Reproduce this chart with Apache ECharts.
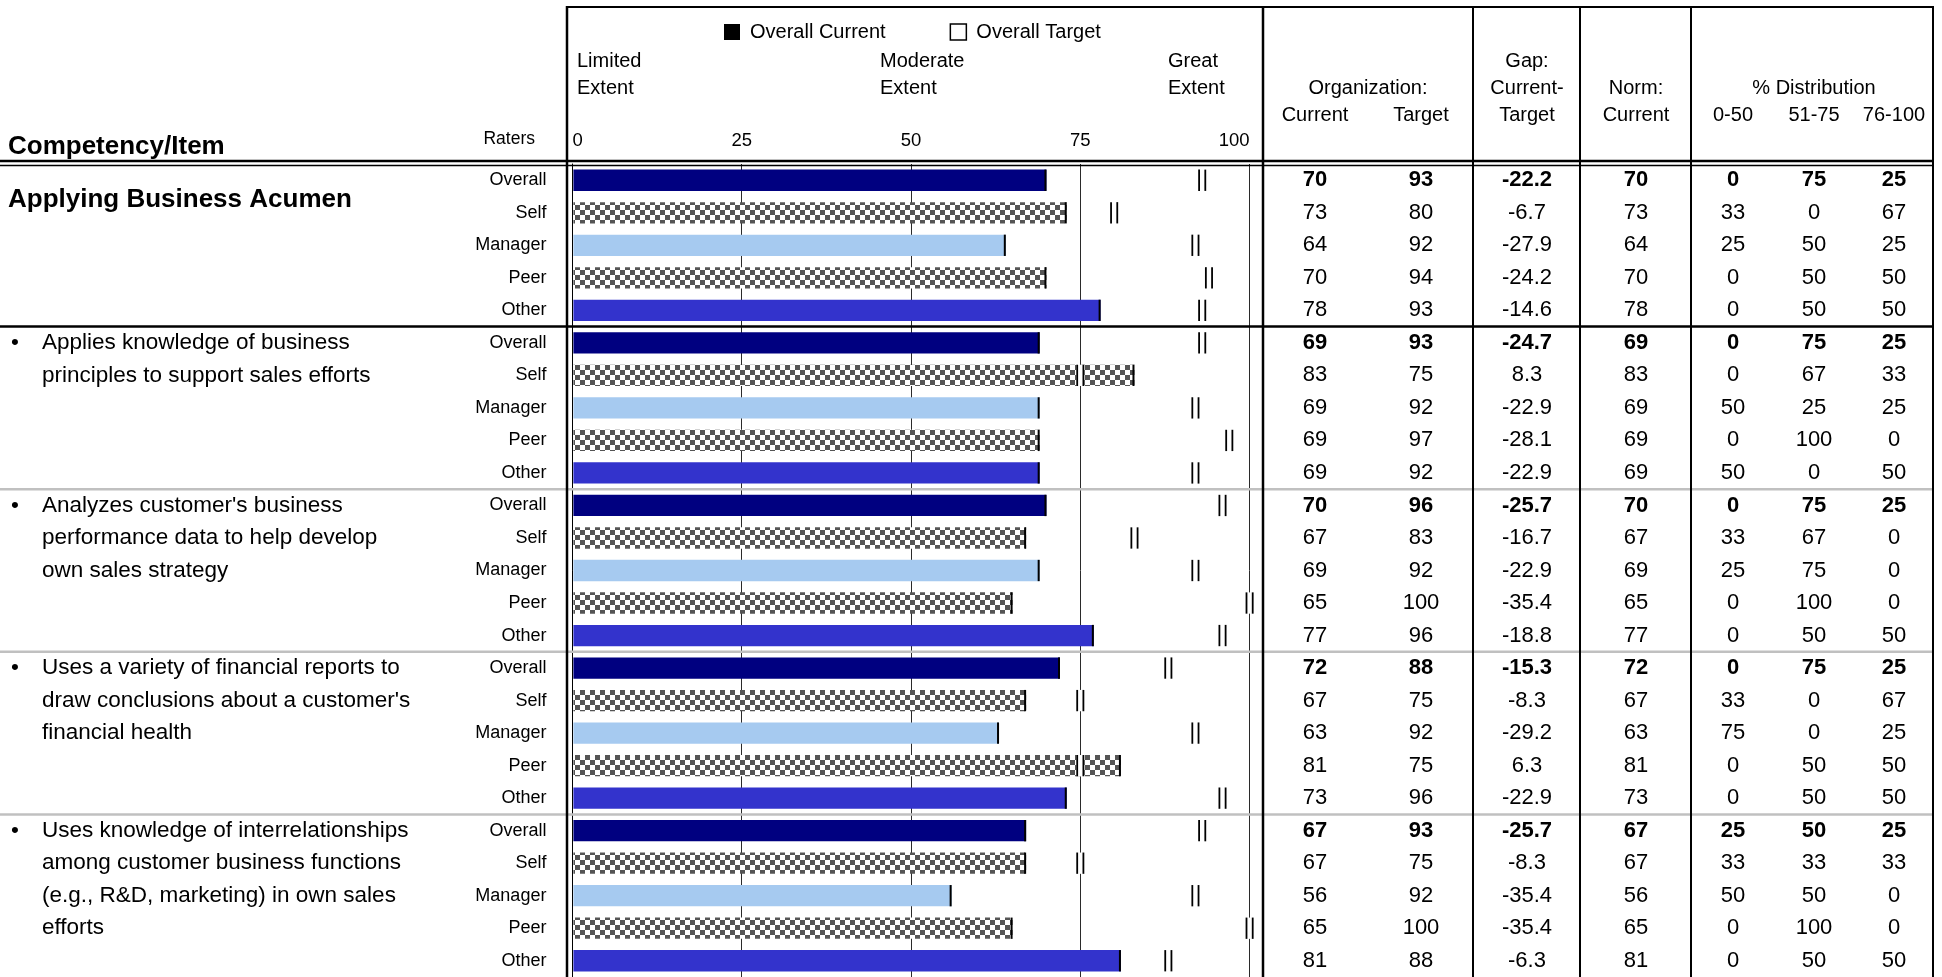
<!DOCTYPE html>
<html><head><meta charset="utf-8">
<script src="https://cdn.jsdelivr.net/npm/echarts@6/dist/echarts.min.js"></script>
<style>html,body{margin:0;padding:0;background:#fff}#c{width:1942px;height:977px}</style>
</head><body><div id="c"></div><script>
const FONT = '"Liberation Sans", Arial, Helvetica, sans-serif';

// ---------- data ----------
const raterNames = ['Overall', 'Self', 'Manager', 'Peer', 'Other'];
const competency = 'Applying Business Acumen';
const itemTexts = [
  ['Applies knowledge of business', 'principles to support sales efforts'],
  ['Analyzes customer\'s business', 'performance data to help develop', 'own sales strategy'],
  ['Uses a variety of financial reports to', 'draw conclusions about a customer\'s', 'financial health'],
  ['Uses knowledge of interrelationships', 'among customer business functions', '(e.g., R&D, marketing) in own sales', 'efforts']
];
const xTicks = ['0', '25', '50', '75', '100'];
const orgCurrent = [70, 73, 64, 70, 78, 69, 83, 69, 69, 69, 70, 67, 69, 65, 77, 72, 67, 63, 81, 73, 67, 67, 56, 65, 81];
const orgTarget  = [93, 80, 92, 94, 93, 93, 75, 92, 97, 92, 96, 83, 92, 100, 96, 88, 75, 92, 75, 96, 93, 75, 92, 100, 88];
const gapValues  = [-22.2, -6.7, -27.9, -24.2, -14.6, -24.7, 8.3, -22.9, -28.1, -22.9, -25.7, -16.7, -22.9, -35.4, -18.8, -15.3, -8.3, -29.2, 6.3, -22.9, -25.7, -8.3, -35.4, -35.4, -6.3];
const normCurrent = [70, 73, 64, 70, 78, 69, 83, 69, 69, 69, 70, 67, 69, 65, 77, 72, 67, 63, 81, 73, 67, 67, 56, 65, 81];
const dist0to50   = [0, 33, 25, 0, 0, 0, 0, 50, 0, 50, 0, 33, 25, 0, 0, 0, 33, 75, 0, 0, 25, 33, 50, 0, 0];
const dist51to75  = [75, 0, 50, 50, 50, 75, 67, 25, 100, 0, 75, 67, 75, 100, 50, 75, 0, 0, 50, 50, 50, 33, 50, 100, 50];
const dist76to100 = [25, 67, 25, 50, 50, 25, 33, 25, 0, 50, 25, 0, 0, 0, 50, 25, 67, 25, 50, 50, 25, 33, 0, 0, 50];

// ---------- styles ----------
const nRows = orgCurrent.length;
const rowLabels = Array.from({length: nRows}, (_, i) => raterNames[i % 5]);

const pat = document.createElement('canvas');
pat.width = 10; pat.height = 10;
(function () {
  const g = pat.getContext('2d');
  g.fillStyle = '#ffffff'; g.fillRect(0, 0, 10, 10);
  g.fillStyle = '#555555'; g.fillRect(0, 0, 5, 5); g.fillRect(5, 5, 5, 5);
})();
const checker = {image: pat, repeat: 'repeat'};
const raterFill = ['#000080', checker, '#A6CAF0', checker, '#3333CC'];

const colX = [1315, 1421, 1527, 1636, 1733, 1814, 1894];
const BAR_FRAC = 0.655;
const HS = 20; // header font size

function txt(text, x, y, size, align, bold) {
  return {type: 'text', x: x, y: y, z: 20, silent: true,
    style: {text: text, fill: '#000', font: (bold ? 'bold ' : '') + size + 'px ' + FONT,
      textAlign: align || 'left', align: align || 'left', textVerticalAlign: 'middle', verticalAlign: 'middle'}};
}
function ln(x1, y1, x2, y2, w, c) {
  return {type: 'line', z: 20, silent: true, shape: {x1, y1, x2, y2}, style: {stroke: c || '#000', lineWidth: w}};
}

// left text lines
const leftLines = [{row: 0, text: competency, bold: true, title: true}];
itemTexts.forEach((lines, g) => lines.forEach((t, j) => leftLines.push({row: (g + 1) * 5 + j, text: t, bullet: j === 0})));

const headerGraphics = [
  txt('Competency/Item', 8, 147, 26, 'left', true),
  txt('Raters', 535, 139, 17.5, 'right'),
  txt('Limited', 577, 61, HS), txt('Extent', 577, 88, HS),
  txt('Moderate', 880, 61, HS), txt('Extent', 880, 88, HS),
  txt('Great', 1168, 61, HS), txt('Extent', 1168, 88, HS),
  txt('Organization:', 1368, 88, HS, 'center'),
  txt('Current', colX[0], 115, HS, 'center'), txt('Target', colX[1], 115, HS, 'center'),
  txt('Gap:', colX[2], 61, HS, 'center'), txt('Current-', colX[2], 88, HS, 'center'), txt('Target', colX[2], 115, HS, 'center'),
  txt('Norm:', colX[3], 88, HS, 'center'), txt('Current', colX[3], 115, HS, 'center'),
  txt('% Distribution', colX[5], 88, HS, 'center'),
  txt('0-50', colX[4], 115, HS, 'center'), txt('51-75', colX[5], 115, HS, 'center'), txt('76-100', colX[6], 115, HS, 'center'),
  ln(566, 7, 1934, 7, 2),
  ln(0, 161, 1934, 161, 2.5),
  ln(0, 165.5, 1934, 165.5, 1.5),
  ln(567, 6, 567, 977, 2.5),
  ln(1263, 6, 1263, 977, 2.5),
  ln(1473, 6, 1473, 977, 2),
  ln(1580, 6, 1580, 977, 2),
  ln(1691, 6, 1691, 977, 2),
  ln(1933, 6, 1933, 977, 2)
];

const chart = echarts.init(document.getElementById('c'), null, {renderer: 'canvas'});
chart.setOption({
  animation: false,
  backgroundColor: '#fff',
  textStyle: {fontFamily: FONT},
  legend: {
    left: 724, top: 22, padding: 0, itemWidth: 16, itemHeight: 16, itemGap: 64, selectedMode: false,
    textStyle: {fontSize: HS, color: '#000', fontFamily: FONT, padding: [0, 0, 0, 5]},
    data: [
      {name: 'Overall Current', icon: 'rect', itemStyle: {color: '#000', borderWidth: 0}},
      {name: 'Overall Target', icon: 'rect', itemStyle: {color: '#fff', borderColor: '#000', borderWidth: 1.5}}
    ]
  },
  grid: {left: 572.4, top: 164, width: 677.2, height: 820, containLabel: false},
  xAxis: {
    type: 'value', position: 'top', min: 0, max: 100, interval: 25,
    axisLine: {show: false}, axisTick: {show: false},
    axisLabel: {
      color: '#000', fontSize: 18.5, fontFamily: FONT, margin: 14,
      alignMinLabel: 'left', alignMaxLabel: 'right',
      formatter: (v) => xTicks[Math.round(v / 25)]
    },
    splitLine: {show: true, lineStyle: {color: '#2a2a2a', width: 1}}
  },
  yAxis: {
    type: 'category', inverse: true, data: rowLabels,
    axisLine: {show: true, lineStyle: {color: '#000', width: 1}},
    axisTick: {show: false},
    axisLabel: {color: '#000', fontSize: 18, fontFamily: FONT, margin: 26, align: 'right'},
    splitLine: {show: false}
  },
  graphic: headerGraphics,
  series: [
    {
      type: 'custom', name: 'Overall Current', silent: true, z: 3,
      data: orgCurrent.map((v, i) => [v, i]),
      encode: {x: 0, y: 1},
      renderItem: function (params, api) {
        const v = api.value(0), row = api.value(1);
        const p0 = api.coord([0, row]), p1 = api.coord([v, row]);
        const h = api.size([0, 1])[1] * BAR_FRAC;
        const top = p0[1] - h / 2;
        return {type: 'group', children: [
          {type: 'rect', shape: {x: p0[0] + 1, y: top, width: p1[0] - p0[0] - 1, height: h}, style: {fill: raterFill[row % 5]}},
          {type: 'rect', shape: {x: p1[0] - 2, y: top, width: 2, height: h}, style: {fill: '#000'}}
        ]};
      }
    },
    {
      type: 'custom', name: 'Overall Target', silent: true, z: 4,
      data: orgTarget.map((v, i) => [v, i]),
      encode: {x: 0, y: 1},
      renderItem: function (params, api) {
        const v = api.value(0), row = api.value(1);
        const p = api.coord([v, row]);
        const h = api.size([0, 1])[1] * BAR_FRAC;
        const top = p[1] - h / 2;
        return {type: 'group', children: [
          {type: 'rect', shape: {x: p[0] - 4, y: top, width: 8, height: h}, style: {fill: '#fff'}},
          {type: 'rect', shape: {x: p[0] - 4, y: top, width: 1.8, height: h}, style: {fill: '#000'}},
          {type: 'rect', shape: {x: p[0] + 2.2, y: top, width: 1.8, height: h}, style: {fill: '#000'}}
        ]};
      }
    },
    {
      type: 'custom', name: 'table', silent: true, z: 5,
      data: orgCurrent.map((v, i) => [0, i]),
      encode: {x: 0, y: 1},
      renderItem: function (params, api) {
        const i = api.value(1);
        const y = api.coord([0, i])[1];
        const pitch = api.size([0, 1])[1];
        const bold = i % 5 === 0;
        const vals = [orgCurrent[i], orgTarget[i], gapValues[i].toFixed(1), normCurrent[i], dist0to50[i], dist51to75[i], dist76to100[i]];
        const children = vals.map((v, k) => ({type: 'text', x: colX[k], y: y,
          style: {text: String(v), fill: '#000', font: (bold ? 'bold ' : '') + '22px ' + FONT,
            textAlign: 'center', align: 'center', textVerticalAlign: 'middle', verticalAlign: 'middle'}}));
        if (i % 5 === 0 && i > 0) {
          const yy = y - pitch / 2;
          children.push({type: 'line', z2: -1, shape: {x1: 0, y1: yy, x2: 1933, y2: yy},
            style: {stroke: i === 5 ? '#000' : '#c0c0c0', lineWidth: 2.5}});
        }
        return {type: 'group', children: children};
      }
    },
    {
      type: 'custom', name: 'items', silent: true, z: 5,
      data: leftLines.map((l) => [0, l.row]),
      encode: {x: 0, y: 1},
      renderItem: function (params, api) {
        const l = leftLines[params.dataIndex];
        let y = api.coord([0, l.row])[1];
        const pitch = api.size([0, 1])[1];
        if (l.title) y += pitch * 0.6;
        const children = [];
        if (l.title) {
          children.push({type: 'text', x: 8, y: y, style: {text: l.text, fill: '#000', font: 'bold 26px ' + FONT, textVerticalAlign: 'middle', verticalAlign: 'middle'}});
        } else {
          if (l.bullet) children.push({type: 'text', x: 11, y: y, style: {text: '\u2022', fill: '#000', font: '22.5px ' + FONT, textVerticalAlign: 'middle', verticalAlign: 'middle'}});
          children.push({type: 'text', x: 42, y: y, style: {text: l.text, fill: '#000', font: '22.5px ' + FONT, textVerticalAlign: 'middle', verticalAlign: 'middle'}});
        }
        return {type: 'group', children: children};
      }
    }
  ]
});
</script></body></html>
